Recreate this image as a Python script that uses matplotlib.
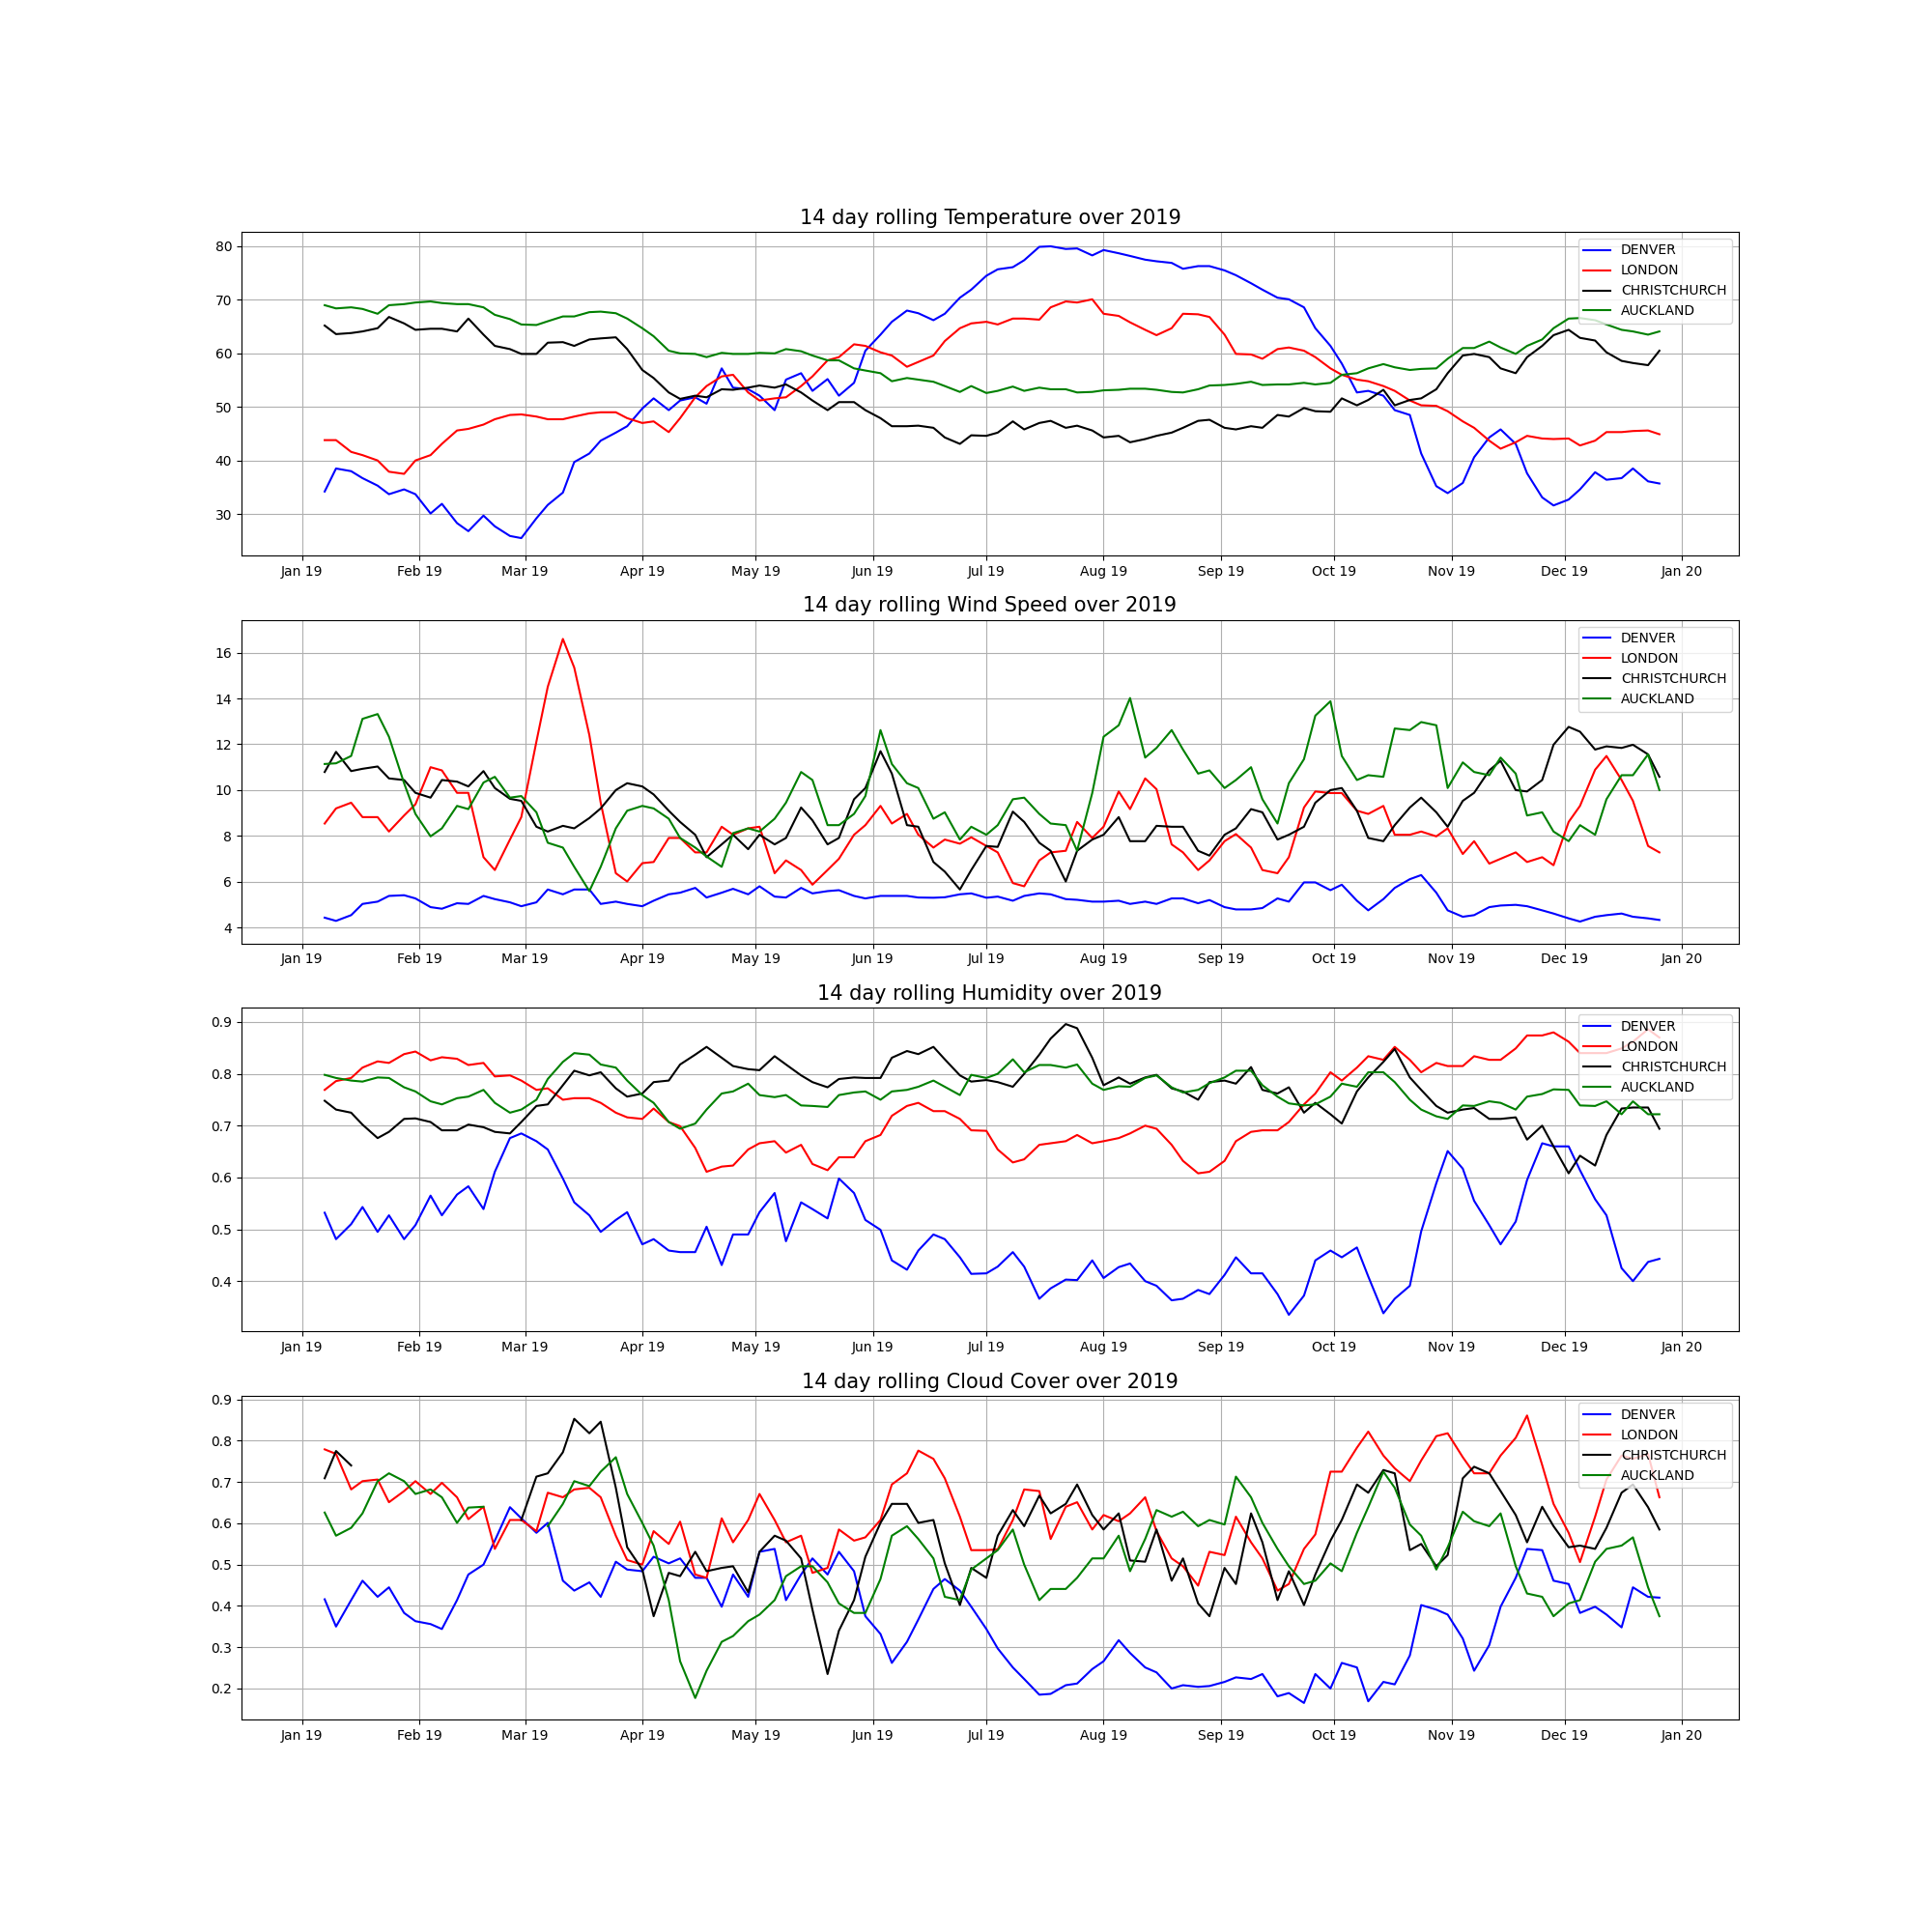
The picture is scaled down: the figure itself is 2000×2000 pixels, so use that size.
import matplotlib
matplotlib.use('Agg')
import matplotlib.pyplot as plt
import matplotlib.dates as mdates
import numpy as np
import pandas as pd

nan = np.nan

## readings taken twice a week (Mondays and Thursdays)
mondays = pd.date_range('2019-01-07', '2019-12-23', freq='W-MON')
thursdays = pd.date_range('2019-01-10', '2019-12-26', freq='W-THU')
dates = mondays.union(thursdays)

cities = ['DENVER', 'LONDON', 'CHRISTCHURCH', 'AUCKLAND']
colours = ['blue', 'red', 'black', 'green']

## Temperature
temp_denver = [34.2, 38.5, 38, 36.7, 35.3, 33.7, 34.6, 33.7,
               30.1, 31.9, 28.3, 26.8, 29.7, 27.7, 25.9, 25.5,
               29.2, 31.7, 34, 39.7, 41.3, 43.7, 45.2, 46.4,
               49.7, 51.6, 49.4, 51.2, 51.8, 50.6, 57.2, 53.6, 53.3,
               52.1, 49.4, 55.1, 56.3, 53, 55.2, 52.1, 54.5, 60.5,
               63.5, 65.9, 68, 67.5, 66.2, 67.4, 70.4, 71.9,
               74.5, 75.7, 76.1, 77.4, 79.9, 80, 79.5, 79.6, 78.3,
               79.3, 78.7, 78.2, 77.5, 77.2, 76.9, 75.8, 76.3, 76.3,
               75.5, 74.6, 73.1, 71.9, 70.4, 70.1, 68.6, 64.7, 61.4,
               58.1, 52.7, 53, 52.1, 49.4, 48.5, 41.3, 35.2, 33.9,
               35.8, 40.6, 44.3, 45.8, 43.1, 37.6, 33.1, 31.6,
               32.7, 34.6, 37.8, 36.4, 36.7, 38.5, 36.1, 35.7]
temp_london = [43.8, 43.8, 41.6, 41, 40, 37.9, 37.5, 40,
               41, 43.1, 45.6, 45.9, 46.7, 47.7, 48.5, 48.6,
               48.2, 47.7, 47.7, 48.2, 48.8, 49, 49, 47.9,
               47, 47.3, 45.3, 47.9, 51.8, 53.9, 55.7, 56, 52.7,
               51.2, 51.6, 51.8, 53.9, 55.7, 58.7, 59.3, 61.7, 61.4,
               60.2, 59.6, 57.5, 58.4, 59.6, 62.3, 64.7, 65.6,
               65.9, 65.4, 66.5, 66.5, 66.3, 68.6, 69.7, 69.5, 70.1,
               67.4, 67, 65.8, 64.4, 63.4, 64.7, 67.4, 67.3, 66.8,
               63.5, 59.9, 59.8, 59, 60.8, 61.1, 60.5, 59.3, 57.2,
               56, 55.1, 54.8, 53.9, 53, 51.2, 50.3, 50.2, 49.2,
               47.3, 46.1, 43.7, 42.2, 43.4, 44.6, 44.1, 44,
               44.1, 42.8, 43.7, 45.3, 45.3, 45.5, 45.6, 44.9]
temp_christchurch = [65.2, 63.6, 63.8, 64.1, 64.7, 66.8, 65.6, 64.4,
                     64.6, 64.6, 64.1, 66.5, 63.5, 61.4, 60.8, 59.9,
                     59.9, 62, 62.1, 61.4, 62.6, 62.8, 63, 60.8,
                     56.9, 55.4, 52.7, 51.5, 52.1, 51.8, 53.3, 53.2, 53.6,
                     54, 53.6, 54.2, 52.7, 51.2, 49.4, 50.9, 50.9, 49.4,
                     47.9, 46.4, 46.4, 46.5, 46.1, 44.3, 43.1, 44.7,
                     44.6, 45.2, 47.3, 45.8, 47, 47.4, 46.1, 46.5, 45.6,
                     44.3, 44.6, 43.4, 44, 44.6, 45.2, 46.1, 47.4, 47.6,
                     46.1, 45.8, 46.4, 46.1, 48.5, 48.2, 49.8, 49.2, 49.1,
                     51.6, 50.3, 51.3, 53.2, 50.3, 51.3, 51.6, 53.3, 56.3,
                     59.6, 59.9, 59.3, 57.2, 56.3, 59.3, 61.4, 63.4,
                     64.4, 62.9, 62.4, 60.2, 58.6, 58.2, 57.8, 60.5]
temp_auckland = [69, 68.4, 68.6, 68.3, 67.4, 69, 69.2, 69.5,
                 69.7, 69.4, 69.2, 69.2, 68.6, 67.2, 66.4, 65.4,
                 65.3, 66, 66.9, 66.9, 67.7, 67.8, 67.5, 66.5,
                 64.7, 63.2, 60.5, 60, 59.9, 59.3, 60.1, 59.9, 59.9,
                 60.1, 60, 60.8, 60.4, 59.6, 58.7, 58.7, 57.2, 56.8,
                 56.3, 54.8, 55.4, 55.1, 54.7, 53.9, 52.8, 53.9,
                 52.6, 53, 53.8, 53, 53.6, 53.3, 53.3, 52.7, 52.8,
                 53.1, 53.2, 53.4, 53.4, 53.2, 52.8, 52.7, 53.3, 54,
                 54.1, 54.3, 54.7, 54.1, 54.2, 54.2, 54.5, 54.2, 54.5,
                 56, 56.3, 57.2, 58, 57.4, 56.9, 57.1, 57.2, 59,
                 61, 61, 62.2, 61.1, 59.9, 61.4, 62.6, 64.7,
                 66.5, 66.6, 66.2, 65.4, 64.4, 64.1, 63.5, 64.1]

## Wind Speed
wind_denver = [4.43, 4.29, 4.54, 5.03, 5.13, 5.38, 5.41, 5.27,
               4.89, 4.82, 5.06, 5.03, 5.38, 5.24, 5.1, 4.93,
               5.1, 5.66, 5.45, 5.66, 5.66, 5.03, 5.13, 5.03,
               4.93, 5.17, 5.45, 5.52, 5.73, 5.31, 5.52, 5.69, 5.45,
               5.8, 5.35, 5.31, 5.73, 5.49, 5.59, 5.63, 5.38, 5.27,
               5.38, 5.38, 5.38, 5.31, 5.3, 5.32, 5.45, 5.49,
               5.3, 5.35, 5.17, 5.38, 5.49, 5.45, 5.24, 5.21, 5.13,
               5.13, 5.17, 5.03, 5.13, 5.03, 5.27, 5.27, 5.06, 5.2,
               4.89, 4.79, 4.79, 4.85, 5.27, 5.13, 5.97, 5.97, 5.63,
               5.87, 5.17, 4.75, 5.24, 5.73, 6.11, 6.29, 5.52, 4.75,
               4.47, 4.54, 4.89, 4.96, 4.99, 4.93, 4.75, 4.61,
               4.4, 4.26, 4.47, 4.54, 4.61, 4.47, 4.4, 4.33]
wind_london = [8.54, 9.2, 9.45, 8.82, 8.82, 8.19, 8.89, 9.38,
               11, 10.86, 9.88, 9.88, 7.07, 6.51, 7.84, 8.82,
               12.12, 14.51, 16.6, 15.35, 12.4, 9.45, 6.37, 6.01,
               6.81, 6.86, 7.91, 7.91, 7.28, 7.28, 8.4, 8.05, 8.33,
               8.4, 6.37, 6.93, 6.51, 5.87, 6.51, 7, 8.05, 8.47,
               9.31, 8.54, 8.96, 8.05, 7.49, 7.84, 7.66, 7.94,
               7.56, 7.28, 5.94, 5.8, 6.93, 7.28, 7.35, 8.61, 7.91,
               8.4, 9.94, 9.17, 10.51, 10.04, 7.63, 7.28, 6.51, 6.93,
               7.77, 8.08, 7.49, 6.51, 6.37, 7.07, 9.24, 9.94, 9.87,
               9.87, 9.1, 8.96, 9.31, 8.05, 8.05, 8.19, 7.98, 8.33,
               7.21, 7.77, 6.79, 7, 7.28, 6.86, 7.07, 6.72,
               8.61, 9.31, 10.89, 11.49, 10.44, 9.53, 7.56, 7.28]
wind_christchurch = [10.79, 11.67, 10.83, 10.93, 11.03, 10.51, 10.44, 9.88,
                     9.67, 10.44, 10.37, 10.16, 10.83, 10.09, 9.62, 9.53,
                     8.4, 8.19, 8.44, 8.33, 8.78, 9.2, 10, 10.3,
                     10.16, 9.81, 9.1, 8.61, 8.05, 7.07, 7.63, 8.05, 7.42,
                     8.05, 7.63, 7.91, 9.24, 8.68, 7.63, 7.91, 9.6, 10.09,
                     11.7, 10.72, 8.47, 8.4, 6.86, 6.44, 5.66, 6.51,
                     7.56, 7.52, 9.06, 8.61, 7.7, 7.35, 6.01, 7.35, 7.84,
                     8.05, 8.82, 7.77, 7.77, 8.44, 8.4, 8.4, 7.35, 7.14,
                     8.05, 8.33, 9.17, 9.03, 7.84, 8.05, 8.4, 9.45, 10,
                     10.09, 9.1, 7.91, 7.77, 8.47, 9.24, 9.67, 9.03, 8.4,
                     9.53, 9.88, 10.86, 11.28, 10, 9.94, 10.44, 11.98,
                     12.76, 12.55, 11.77, 11.91, 11.84, 11.98, 11.56, 10.58]
wind_auckland = [11.14, 11.17, 11.49, 13.11, 13.32, 12.33, 10.3, 8.96,
                 7.98, 8.33, 9.31, 9.17, 10.33, 10.58, 9.67, 9.74,
                 9.03, 7.7, 7.49, 6.65, 5.59, 6.65, 8.33, 9.1,
                 9.31, 9.2, 8.75, 7.91, 7.49, 7.1, 6.65, 8.12, 8.33,
                 8.19, 8.75, 9.45, 10.79, 10.44, 8.47, 8.47, 8.96, 9.74,
                 12.62, 11.14, 10.3, 10.09, 8.75, 9.03, 7.84, 8.4,
                 8.05, 8.47, 9.6, 9.67, 8.96, 8.54, 8.47, 7.35, 9.87,
                 12.33, 12.83, 14.02, 11.42, 11.84, 12.62, 11.77, 10.72, 10.86,
                 10.09, 10.44, 11, 9.6, 8.54, 10.3, 11.35, 13.25, 13.88,
                 11.49, 10.44, 10.65, 10.58, 12.69, 12.62, 12.97, 12.83, 10.09,
                 11.21, 10.79, 10.65, 11.42, 10.72, 8.89, 9.03, 8.19,
                 7.77, 8.47, 8.05, 9.6, 10.65, 10.65, 11.56, 10]

## Humidity
hum_denver = [0.532, 0.481, 0.51, 0.543, 0.495, 0.527, 0.481, 0.508,
              0.565, 0.527, 0.567, 0.583, 0.539, 0.611, 0.676, 0.685,
              0.67, 0.654, 0.598, 0.552, 0.527, 0.495, 0.518, 0.533,
              0.471, 0.481, 0.459, 0.456, 0.456, 0.505, 0.431, 0.49, 0.49,
              0.533, 0.57, 0.477, 0.552, 0.539, 0.521, 0.598, 0.57, 0.518,
              0.499, 0.44, 0.422, 0.459, 0.49, 0.481, 0.446, 0.414,
              0.415, 0.428, 0.456, 0.428, 0.366, 0.386, 0.403, 0.402, 0.44,
              0.406, 0.427, 0.434, 0.4, 0.391, 0.363, 0.366, 0.383, 0.375,
              0.412, 0.446, 0.415, 0.415, 0.375, 0.335, 0.372, 0.44, 0.459,
              0.446, 0.465, 0.409, 0.338, 0.366, 0.391, 0.496, 0.589, 0.651,
              0.617, 0.555, 0.508, 0.471, 0.515, 0.595, 0.666, 0.66,
              0.66, 0.614, 0.558, 0.527, 0.425, 0.4, 0.437, 0.443]
hum_london = [0.769, 0.786, 0.792, 0.812, 0.824, 0.821, 0.838, 0.843,
              0.826, 0.832, 0.829, 0.817, 0.821, 0.795, 0.797, 0.787,
              0.769, 0.772, 0.75, 0.753, 0.753, 0.744, 0.725, 0.716,
              0.713, 0.733, 0.707, 0.699, 0.657, 0.611, 0.621, 0.623, 0.654,
              0.666, 0.67, 0.648, 0.663, 0.626, 0.614, 0.639, 0.639, 0.67,
              0.682, 0.719, 0.738, 0.744, 0.728, 0.728, 0.713, 0.691,
              0.69, 0.654, 0.629, 0.635, 0.663, 0.666, 0.67, 0.682, 0.666,
              0.67, 0.676, 0.685, 0.7, 0.694, 0.663, 0.632, 0.608, 0.611,
              0.632, 0.67, 0.688, 0.691, 0.691, 0.707, 0.741, 0.762, 0.803,
              0.787, 0.812, 0.834, 0.827, 0.852, 0.827, 0.803, 0.821, 0.815,
              0.815, 0.834, 0.827, 0.827, 0.849, 0.874, 0.874, 0.88,
              0.862, 0.84, 0.84, 0.84, 0.849, 0.862, 0.886, 0.87]
hum_christchurch = [0.748, 0.731, 0.725, 0.702, 0.676, 0.688, 0.713, 0.714,
                    0.707, 0.691, 0.691, 0.702, 0.697, 0.688, 0.685, 0.707,
                    0.738, 0.741, 0.778, 0.806, 0.797, 0.803, 0.772, 0.756,
                    0.762, 0.784, 0.787, 0.818, 0.837, 0.852, 0.831, 0.815, 0.809,
                    0.807, 0.834, 0.818, 0.797, 0.784, 0.774, 0.79, 0.793, 0.792,
                    0.792, 0.831, 0.844, 0.838, 0.852, 0.828, 0.797, 0.785,
                    0.788, 0.784, 0.775, 0.8, 0.837, 0.868, 0.896, 0.888, 0.831,
                    0.778, 0.793, 0.781, 0.793, 0.798, 0.772, 0.766, 0.75, 0.784,
                    0.787, 0.781, 0.813, 0.769, 0.762, 0.774, 0.725, 0.744, 0.722,
                    0.704, 0.766, 0.793, 0.823, 0.848, 0.793, 0.769, 0.738, 0.725,
                    0.731, 0.734, 0.713, 0.713, 0.716, 0.673, 0.7, 0.66,
                    0.608, 0.642, 0.623, 0.682, 0.733, 0.735, 0.735, 0.694]
hum_auckland = [0.798, 0.792, 0.787, 0.785, 0.793, 0.792, 0.774, 0.766,
                0.747, 0.741, 0.753, 0.756, 0.769, 0.744, 0.725, 0.731,
                0.75, 0.79, 0.823, 0.84, 0.837, 0.818, 0.812, 0.787,
                0.759, 0.744, 0.707, 0.694, 0.704, 0.731, 0.762, 0.766, 0.781,
                0.759, 0.755, 0.759, 0.739, 0.738, 0.736, 0.759, 0.764, 0.766,
                0.75, 0.766, 0.769, 0.775, 0.787, 0.775, 0.759, 0.798,
                0.792, 0.8, 0.828, 0.803, 0.817, 0.817, 0.812, 0.818, 0.781,
                0.769, 0.776, 0.775, 0.792, 0.797, 0.774, 0.764, 0.769, 0.782,
                0.793, 0.806, 0.806, 0.778, 0.756, 0.743, 0.739, 0.741, 0.756,
                0.781, 0.775, 0.803, 0.803, 0.784, 0.75, 0.731, 0.718, 0.713,
                0.739, 0.738, 0.747, 0.744, 0.731, 0.756, 0.761, 0.77,
                0.769, 0.739, 0.738, 0.747, 0.722, 0.747, 0.722, 0.722]

## Cloud Cover (nan = no readings)
cloud_denver = [0.416, 0.35, 0.414, 0.461, 0.422, 0.445, 0.383, 0.363,
                0.356, 0.344, 0.414, 0.476, 0.5, 0.558, 0.639, 0.612,
                0.577, 0.601, 0.461, 0.437, 0.457, 0.422, 0.507, 0.488,
                0.484, 0.519, 0.503, 0.515, 0.468, 0.468, 0.398, 0.476, 0.422,
                0.531, 0.538, 0.414, 0.476, 0.515, 0.476, 0.531, 0.484, 0.375,
                0.332, 0.262, 0.313, 0.367, 0.441, 0.465, 0.437, 0.398,
                0.344, 0.297, 0.251, 0.223, 0.185, 0.187, 0.208, 0.212, 0.247,
                0.266, 0.317, 0.286, 0.251, 0.239, 0.2, 0.208, 0.204, 0.206,
                0.216, 0.227, 0.223, 0.235, 0.181, 0.189, 0.165, 0.235, 0.2,
                0.262, 0.251, 0.169, 0.216, 0.21, 0.28, 0.402, 0.391, 0.379,
                0.321, 0.243, 0.305, 0.398, 0.468, 0.538, 0.535, 0.461,
                0.453, 0.383, 0.398, 0.379, 0.348, 0.445, 0.422, 0.42]
cloud_london = [0.779, 0.768, 0.682, 0.702, 0.706, 0.651, 0.678, 0.702,
                0.671, 0.698, 0.663, 0.61, 0.64, 0.538, 0.608, 0.608,
                0.581, 0.674, 0.663, 0.682, 0.686, 0.663, 0.57, 0.511,
                0.5, 0.581, 0.55, 0.604, 0.476, 0.468, 0.612, 0.554, 0.608,
                0.671, 0.608, 0.554, 0.57, 0.48, 0.492, 0.585, 0.558, 0.566,
                0.608, 0.694, 0.721, 0.776, 0.756, 0.709, 0.616, 0.535,
                0.535, 0.537, 0.608, 0.682, 0.678, 0.562, 0.64, 0.651, 0.585,
                0.62, 0.605, 0.624, 0.663, 0.581, 0.515, 0.496, 0.449, 0.531,
                0.523, 0.616, 0.554, 0.515, 0.437, 0.453, 0.538, 0.573, 0.725,
                0.725, 0.783, 0.822, 0.764, 0.733, 0.702, 0.752, 0.811, 0.818,
                0.76, 0.721, 0.721, 0.764, 0.807, 0.861, 0.741, 0.647,
                0.577, 0.506, 0.616, 0.706, 0.764, 0.756, 0.768, 0.663]
cloud_christchurch = [0.709, 0.775, 0.74, nan, nan, nan, nan, nan,
                      nan, nan, nan, nan, nan, nan, nan, 0.608,
                      0.713, 0.721, 0.772, 0.853, 0.818, 0.846, 0.686, 0.542,
                      0.488, 0.375, 0.48, 0.472, 0.531, 0.484, 0.492, 0.496, 0.433,
                      0.531, 0.57, 0.558, 0.515, 0.391, 0.235, 0.34, 0.414, 0.519,
                      0.601, 0.647, 0.647, 0.601, 0.608, 0.503, 0.402, 0.492,
                      0.468, 0.57, 0.632, 0.593, 0.667, 0.624, 0.647, 0.694, 0.62,
                      0.585, 0.624, 0.51, 0.507, 0.585, 0.461, 0.515, 0.406, 0.375,
                      0.492, 0.453, 0.624, 0.554, 0.414, 0.484, 0.402, 0.476, 0.558,
                      0.608, 0.694, 0.674, 0.729, 0.721, 0.535, 0.55, 0.496, 0.523,
                      0.709, 0.737, 0.721, 0.678, 0.62, 0.554, 0.64, 0.593,
                      0.542, 0.546, 0.538, 0.589, 0.674, 0.694, 0.639, 0.585]
cloud_auckland = [0.626, 0.57, 0.589, 0.624, 0.702, 0.721, 0.702, 0.671,
                  0.682, 0.663, 0.601, 0.638, 0.64, nan, nan, nan,
                  nan, 0.593, 0.647, 0.702, 0.69, 0.725, 0.76, 0.671,
                  0.601, 0.546, 0.414, 0.266, 0.177, 0.243, 0.313, 0.327, 0.363,
                  0.379, 0.414, 0.472, 0.496, 0.496, 0.457, 0.406, 0.383, 0.383,
                  0.465, 0.57, 0.593, 0.562, 0.515, 0.422, 0.414, 0.488,
                  0.515, 0.535, 0.585, 0.5, 0.414, 0.441, 0.441, 0.468, 0.515,
                  0.515, 0.57, 0.484, 0.562, 0.632, 0.616, 0.628, 0.593, 0.608,
                  0.597, 0.713, 0.663, 0.601, 0.538, 0.496, 0.453, 0.461, 0.503,
                  0.484, 0.577, 0.639, 0.725, 0.686, 0.597, 0.57, 0.488, 0.542,
                  0.628, 0.605, 0.593, 0.624, 0.496, 0.43, 0.422, 0.375,
                  0.406, 0.414, 0.507, 0.538, 0.546, 0.566, 0.445, 0.375]

panels = [('Temperature', [temp_denver, temp_london, temp_christchurch, temp_auckland], (22.3, 82.7)),
          ('Wind Speed', [wind_denver, wind_london, wind_christchurch, wind_auckland], (3.31, 17.43)),
          ('Humidity', [hum_denver, hum_london, hum_christchurch, hum_auckland], (0.303, 0.927)),
          ('Cloud Cover', [cloud_denver, cloud_london, cloud_christchurch, cloud_auckland], (0.125, 0.908))]

fig, axes = plt.subplots(4, 1, figsize=(20, 20))
for ax, (measure, series, ylims) in zip(axes, panels):
    for city, colour, vals in zip(cities, colours, series):
        ax.plot(dates, vals, color=colour, label=city)
    ax.set_title('14 day rolling ' + measure + ' over 2019', fontsize=15)
    ax.legend(loc='upper right')
    ax.grid(True)
    ax.xaxis.set_major_locator(mdates.MonthLocator())
    ax.xaxis.set_major_formatter(mdates.DateFormatter('%b %y'))
    ax.set_xlim(pd.Timestamp('2018-12-16'), pd.Timestamp('2020-01-16'))
    ax.set_ylim(ylims)

fig.savefig('out.png')
